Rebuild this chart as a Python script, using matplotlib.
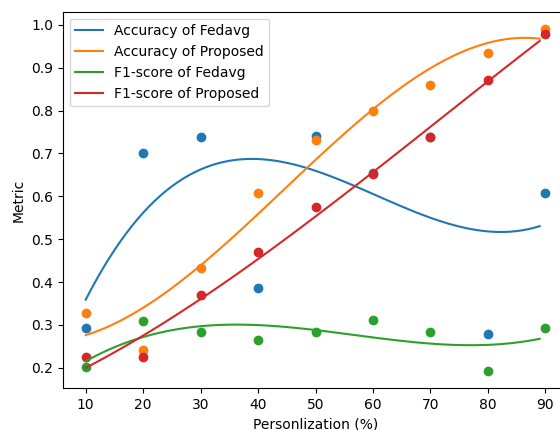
import numpy as np
import matplotlib
matplotlib.use("Agg")
import matplotlib.pyplot as plt

# Personalization levels (%)
personalization = [10, 20, 30, 40, 50, 60, 70, 80, 90]

# Measured metrics at each personalization level
acc_fedavg = [0.292, 0.700, 0.739, 0.387, 0.740, 0.655, 0.738, 0.279, 0.608]
acc_proposed = [0.328, 0.242, 0.432, 0.607, 0.732, 0.799, 0.859, 0.935, 0.991]
f1_fedavg = [0.202, 0.310, 0.283, 0.265, 0.283, 0.311, 0.283, 0.192, 0.293]
f1_proposed = [0.224, 0.224, 0.369, 0.471, 0.575, 0.651, 0.738, 0.871, 0.979]

series = [
    ("Accuracy of Fedavg", acc_fedavg, "tab:blue"),
    ("Accuracy of Proposed", acc_proposed, "tab:orange"),
    ("F1-score of Fedavg", f1_fedavg, "tab:green"),
    ("F1-score of Proposed", f1_proposed, "tab:red"),
]

fig = plt.figure(figsize=(5.6, 4.3), dpi=100)
ax = fig.add_axes([0.112, 0.097, 0.903, 0.876])

x = np.array(personalization, dtype=float)
x_fit = np.arange(10, 90)
for label, values, color in series:
    y = np.array(values)
    ax.scatter(x, y, color=color)
    coeffs = np.polyfit(x, y, 3)
    ax.plot(x_fit, np.polyval(coeffs, x_fit), color=color, label=label)

ax.set_xlabel("Personlization (%)")
ax.set_ylabel("Metric")
ax.legend(loc="upper left")

fig.savefig("out.png", dpi=100)
